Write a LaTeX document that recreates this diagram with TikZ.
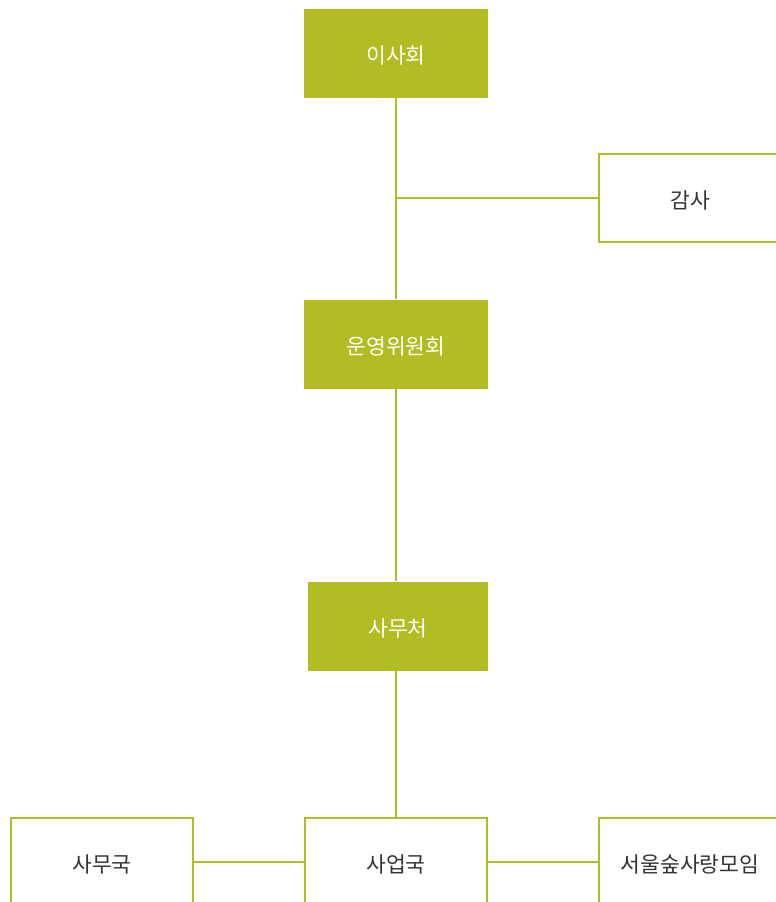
\documentclass[tikz,border=0pt]{standalone}
\usepackage{fontspec}
\setmainfont{Noto Sans CJK KR}
\definecolor{olive}{HTML}{B1BD22}
\definecolor{txt}{HTML}{333333}
\newcommand{\lowtxt}[1]{\raisebox{-2pt}[\height][\depth]{#1}}
\begin{document}
\begin{tikzpicture}[x=1pt,y=-1pt,
  fillbox/.style={fill=olive, text=white, minimum width=184pt, minimum height=89pt, inner sep=0pt, font=\fontsize{21.5}{24}\selectfont},
  linebox/.style={draw=olive, line width=2.2pt, fill=white, text=txt, minimum width=182pt, minimum height=88pt, inner sep=0pt, font=\fontsize{21.5}{24}\selectfont},
  conn/.style={draw=olive, line width=2.4pt}]
\useasboundingbox (0,0) rectangle (776,902);
\clip (0,0) rectangle (776,902);
\node[fillbox] (isahoe) at (396,53.5) {\lowtxt{이사회}};
\node[fillbox] (unyeong) at (396,344) {\lowtxt{운영위원회}};
\node[fillbox, minimum width=180pt] (samucheo) at (398,626) {\lowtxt{사무처}};
\node[linebox] (gamsa) at (690,198) {\lowtxt{감사}};
\node[linebox] (saeop) at (396,862) {\lowtxt{사업국}};
\node[linebox] (samuguk) at (102,862) {\lowtxt{사무국}};
\node[linebox] (seoul) at (690,862) {\lowtxt{서울숲사랑모임}};
\coordinate (j1) at (isahoe.south |- gamsa.west);
\coordinate (j2) at (unyeong.south |- samucheo.north);
\coordinate (j3) at (unyeong.south |- samucheo.south);
\path[conn] (isahoe.south) -- (unyeong.north);
\path[conn] (j1) -- (gamsa.west);
\path[conn] (unyeong.south) -- (j2);
\path[conn] (j3) -- (saeop.north);
\path[conn] (samuguk.east) -- (saeop.west);
\path[conn] (saeop.east) -- (seoul.west);
\end{tikzpicture}
\end{document}
